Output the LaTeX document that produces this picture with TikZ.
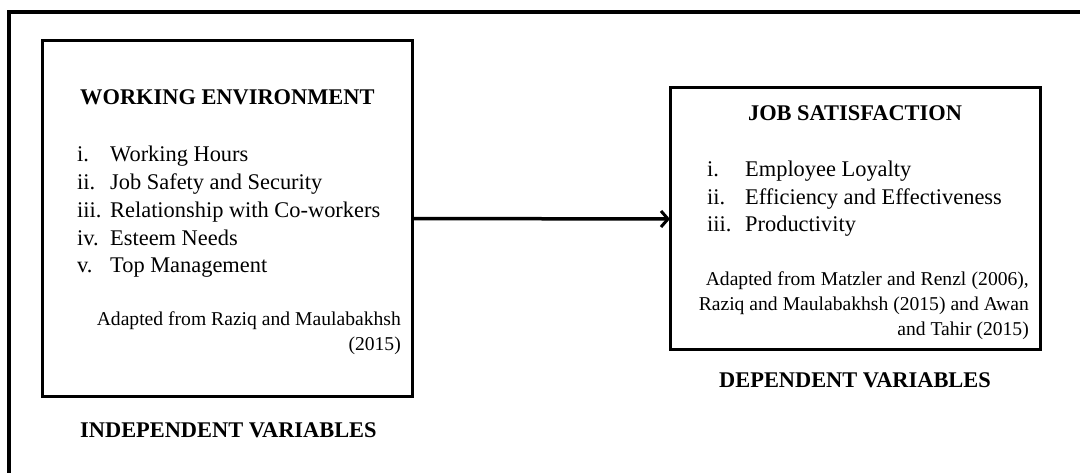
\documentclass[tikz,border=0pt]{standalone}
\usepackage{fontspec}
\setmainfont{Liberation Serif}
\usetikzlibrary{arrows.meta}
\tikzset{
  box/.style={draw, line width=3pt, minimum width=#1, inner sep=0pt, outer sep=0pt},
  frame/.style={line width=3.5pt},
  conn/.style={line width=3.5pt, -{Straight Barb[length=7pt,width=16pt,line width=3pt]}},
  title/.style={font=\fontsize{22.4}{26}\selectfont\bfseries, anchor=base west, inner sep=0pt},
  item/.style={font=\fontsize{22.4}{26}\selectfont, anchor=base west, inner sep=0pt},
  src/.style={font=\fontsize{19.6}{23}\selectfont, anchor=base east, inner sep=0pt},
}
\begin{document}
\begin{tikzpicture}[x=1pt,y=-1pt]
\useasboundingbox (0,0) rectangle (1080,473);
% outer frame (top and left edges)
\coordinate (fa) at (9,473);
\coordinate (fb) at (9,12);
\coordinate (fc) at (1080,12);
\draw[frame] (fa) -- (fb) -- (fc);
% boxes
\node[box=370pt, minimum height=355pt] (L) at (227,218.5) {};
\node[box=370pt, minimum height=262pt] (R) at (855,219) {};
\draw[conn] (L.east) -- (R.west);
% left box text
\node[title] (lt) at (80,105) {WORKING ENVIRONMENT};
\node[item] (l1n) at (77,162) {i.};
\node[item] (l1) at (110,162) {Working Hours};
\node[item] (l2n) at (77,189.75) {ii.};
\node[item] (l2) at (110,189.75) {Job Safety and Security};
\node[item] (l3n) at (77,217.5) {iii.};
\node[item] (l3) at (110,217.5) {Relationship with Co-workers};
\node[item] (l4n) at (77,245.25) {iv.};
\node[item] (l4) at (110,245.25) {Esteem Needs};
\node[item] (l5n) at (77,273) {v.};
\node[item] (l5) at (110,273) {Top Management};
\node[src] (ls1) at (401,326) {\makebox[304pt][s]{Adapted from Raziq and Maulabakhsh}};
\node[src] (ls2) at (401,351) {(2015)};
\node[title] (lv) at (80,437) {INDEPENDENT VARIABLES};
% right box text
\node[title, anchor=base] (rt) at (855,121) {JOB SATISFACTION};
\node[item] (r1n) at (707,177) {i.};
\node[item] (r1) at (745,177) {Employee Loyalty};
\node[item] (r2n) at (707,204.5) {ii.};
\node[item] (r2) at (745,204.5) {Efficiency and Effectiveness};
\node[item] (r3n) at (707,232) {iii.};
\node[item] (r3) at (745,232) {Productivity};
\node[src] (rs1) at (1029,286) {\makebox[323pt][s]{Adapted from Matzler and Renzl (2006),}};
\node[src] (rs2) at (1029,311) {\makebox[330pt][s]{Raziq and Maulabakhsh (2015) and Awan}};
\node[src] (rs3) at (1029,335.5) {and Tahir (2015)};
\node[title, anchor=base] (rv) at (855,388) {DEPENDENT VARIABLES};
\end{tikzpicture}
\end{document}
